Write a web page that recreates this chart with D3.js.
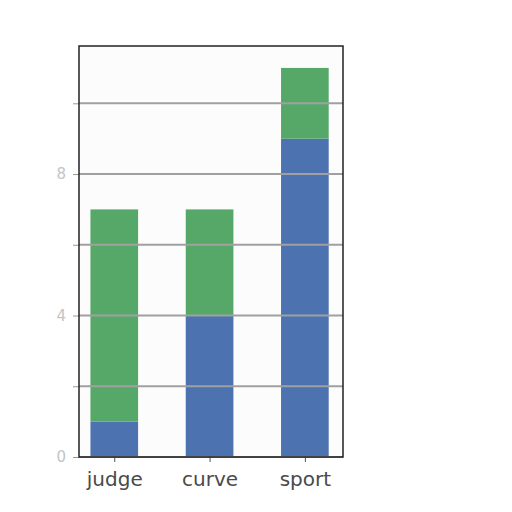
<!DOCTYPE html>
<html>
<head>
<meta charset="utf-8">
<script src="https://cdn.jsdelivr.net/npm/d3@7"></script>
<style>
    body { margin: 0; background: #fff; }
</style>
</head>
<body>
<svg id="chart" width="512" height="512"></svg>
<script>
'use strict';

// chart values
var categories = ['judge', 'curve', 'sport'];
var blueValues = [1, 4, 9];
var greenValues = [6, 3, 2];
var gridTicks = [0, 2, 4, 6, 8, 10];
var labelTicks = [0, 4, 8];

var svg = d3.select('#chart');
var plotLeft = 79, plotRight = 343, plotTop = 46, plotBottom = 457;

var x = d3.scaleLinear().domain([-0.37, 2.4]).range([plotLeft, plotRight]);
var y = d3.scaleLinear().domain([0, 11.62]).range([plotBottom, plotTop]);
var barWidth = 0.5;

svg.append('rect')
    .attr('x', plotLeft).attr('y', plotTop)
    .attr('width', plotRight - plotLeft).attr('height', plotBottom - plotTop)
    .attr('fill', '#fcfcfc');

/* stacked bars */
var stacks = categories.map(function(c, i) {
    return { name: c, i: i, blue: blueValues[i], green: greenValues[i] };
});

svg.selectAll('.blue').data(stacks).enter().append('rect')
    .attr('class', 'blue')
    .attr('x', function(d) { return x(d.i - barWidth / 2); })
    .attr('width', x(barWidth) - x(0))
    .attr('y', function(d) { return y(d.blue); })
    .attr('height', function(d) { return y(0) - y(d.blue); })
    .attr('fill', '#4c72b0');

svg.selectAll('.green').data(stacks).enter().append('rect')
    .attr('class', 'green')
    .attr('x', function(d) { return x(d.i - barWidth / 2); })
    .attr('width', x(barWidth) - x(0))
    .attr('y', function(d) { return y(d.blue + d.green); })
    .attr('height', function(d) { return y(d.blue) - y(d.blue + d.green); })
    .attr('fill', '#55a868');

/* grid lines drawn over the bars */
svg.selectAll('.grid').data(gridTicks).enter().append('line')
    .attr('x1', plotLeft).attr('x2', plotRight)
    .attr('y1', function(d) { return y(d); })
    .attr('y2', function(d) { return y(d); })
    .attr('stroke', '#a0a0a0')
    .attr('stroke-width', 2);

/* y axis */
var yAxis = d3.axisLeft(y).tickValues(gridTicks).tickSize(6)
    .tickFormat(function(d) { return labelTicks.indexOf(d) >= 0 ? d : ''; });
var gy = svg.append('g').attr('transform', 'translate(' + plotLeft + ',0)').call(yAxis);
gy.select('.domain').remove();
gy.selectAll('.tick line').attr('stroke', '#999');
gy.selectAll('.tick text')
    .attr('x', -13)
    .attr('fill', '#c4c4c4')
    .style('font-family', 'DejaVu Sans')
    .style('font-size', '15px');

/* x axis */
var xAxis = d3.axisBottom(x).tickValues(d3.range(categories.length)).tickSize(5)
    .tickFormat(function(d) { return categories[d]; });
var gx = svg.append('g').attr('transform', 'translate(0,' + plotBottom + ')').call(xAxis);
gx.select('.domain').remove();
gx.selectAll('.tick line').attr('stroke', '#555');
gx.selectAll('.tick text')
    .attr('y', 15)
    .attr('fill', '#4a4a4a')
    .style('font-family', 'DejaVu Sans')
    .style('font-size', '20px');

/* frame */
svg.append('rect')
    .attr('x', plotLeft).attr('y', plotTop)
    .attr('width', plotRight - plotLeft).attr('height', plotBottom - plotTop)
    .attr('fill', 'none')
    .attr('stroke', '#222')
    .attr('stroke-width', 1.5);
</script>
</body>
</html>
